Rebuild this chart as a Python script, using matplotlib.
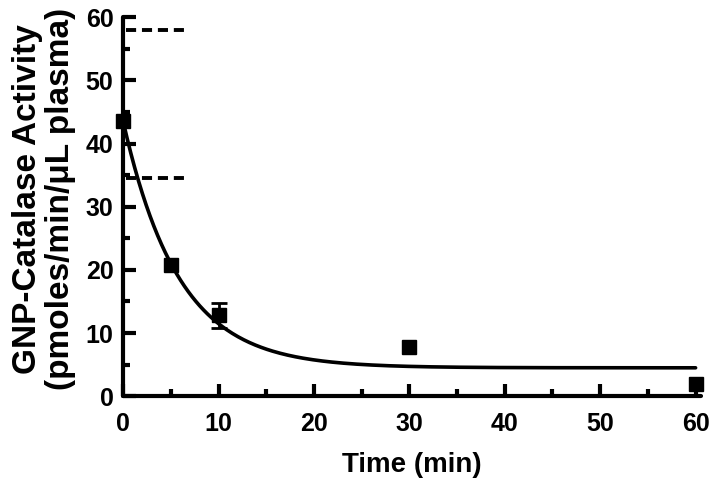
import numpy as np
import matplotlib.pyplot as plt
from matplotlib.ticker import MultipleLocator

plt.rcParams['font.family'] = ['Liberation Sans', 'DejaVu Sans']
plt.rcParams['font.weight'] = 'bold'

# measured points
time_min = [0, 5, 10, 30, 60]
activity = [43.5, 20.8, 12.8, 7.8, 2.0]
# only the 10 min point shows an error bar
err_time = [10]
err_val = [12.8]
err_sd = [2.0]

# single exponential decay fit
plateau = 4.5
span = 39.0
k_rate = 0.172

# dashed reference levels
ref_levels = [58, 34.5]
ref_xmax = 6.7

fig = plt.figure(figsize=(7.12, 4.91), dpi=100)
ax = fig.add_axes([0.173, 0.193, 0.812, 0.772])

t_fit = np.linspace(0, 60, 300)
ax.plot(t_fit, plateau + span * np.exp(-k_rate * t_fit), color='black', lw=2.6,
        solid_capstyle='round', zorder=3)

ax.errorbar(err_time, err_val, yerr=err_sd, fmt='none', ecolor='black',
            elinewidth=2, capsize=6, capthick=2, zorder=4)
ax.plot(time_min, activity, 's', color='black', ms=10, zorder=5, clip_on=False)

for lev in ref_levels:
    ax.plot([0.3, ref_xmax], [lev, lev], color='black', lw=2.8, ls=(0, (2.6, 1.5)))

ax.set_xlim(0, 60.6)
ax.set_ylim(0, 60)
ax.xaxis.set_major_locator(MultipleLocator(10))
ax.xaxis.set_minor_locator(MultipleLocator(5))
ax.yaxis.set_major_locator(MultipleLocator(10))
ax.yaxis.set_minor_locator(MultipleLocator(5))

for s in ['top', 'right']:
    ax.spines[s].set_visible(False)
for s in ['left', 'bottom']:
    ax.spines[s].set_linewidth(3)
    ax.spines[s].set_capstyle('round')

ax.tick_params(which='major', direction='in', length=9, width=3, labelsize=18)
ax.tick_params(axis='x', which='major', pad=11)
ax.tick_params(axis='y', which='major', pad=7)
ax.tick_params(which='minor', direction='in', length=5, width=3)
for lab in ax.get_xticklabels() + ax.get_yticklabels():
    lab.set_fontweight('bold')

fig.text(412 / 712, 1 - 465 / 491, 'Time (min)', fontsize=20, fontweight='bold',
         ha='center', va='center')
fig.text(44 / 712, 1 - 199 / 491, 'GNP-Catalase Activity\n(pmoles/min/\u03bcL plasma)',
         fontsize=24, fontweight='bold', rotation=90, ha='center', va='center',
         linespacing=1.05, multialignment='center')

fig.savefig('out.png', dpi=100)
